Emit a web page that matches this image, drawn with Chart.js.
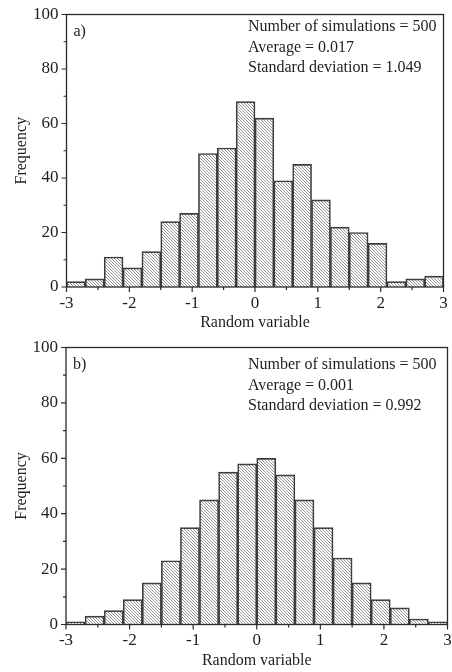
<!DOCTYPE html>
<html>
<head>
<meta charset="utf-8">
<script src="https://cdn.jsdelivr.net/npm/chart.js@4/dist/chart.umd.min.js"></script>
<style>
  html, body { margin: 0; padding: 0; background: #fff; }
  #wrap { position: relative; width: 452px; height: 672px; }
  canvas { position: absolute; left: 0; }
  #c1 { top: 0; }
  #c2 { top: 336px; }
</style>
</head>
<body>
<div id="wrap">
  <canvas id="c1" width="452" height="336"></canvas>
  <canvas id="c2" width="452" height="336"></canvas>
</div>
<script>
// ---- data ----
const binCenters = [-2.85, -2.55, -2.25, -1.95, -1.65, -1.35, -1.05, -0.75, -0.45, -0.15,
                     0.15,  0.45,  0.75,  1.05,  1.35,  1.65,  1.95,  2.25,  2.55,  2.85];
const freqA = [2, 3, 11, 7, 13, 24, 27, 49, 51, 68, 62, 39, 45, 32, 22, 20, 16, 2, 3, 4];
const freqB = [1, 3, 5, 9, 15, 23, 35, 45, 55, 58, 60, 54, 45, 35, 24, 15, 9, 6, 2, 1];
const xMajorTicks = [-3, -2, -1, 0, 1, 2, 3];
const xMinorTicks = [-2.5, -1.5, -0.5, 0.5, 1.5, 2.5];
const yMajorTicks = [0, 20, 40, 60, 80, 100];
const yMinorTicks = [10, 30, 50, 70, 90];
const panelLabels = ['a)', 'b)'];
const infoA = ['Number of simulations = 500', 'Average = 0.017', 'Standard deviation = 1.049'];
const infoB = ['Number of simulations = 500', 'Average = 0.001', 'Standard deviation = 0.992'];
const xTitle = 'Random variable';
const yTitle = 'Frequency';

const FONT = '"Liberation Serif", "Times New Roman", serif';
const INK = '#1e1e1e';

function hatchPattern() {
  const s = 3;
  const c = document.createElement('canvas');
  c.width = s; c.height = s;
  const g = c.getContext('2d');
  g.strokeStyle = '#666';
  g.lineWidth = 0.7;
  g.beginPath();
  g.moveTo(0, 0); g.lineTo(s, s);
  g.moveTo(-1, s - 1); g.lineTo(1, s + 1);
  g.moveTo(s - 1, -1); g.lineTo(s + 1, 1);
  g.stroke();
  return document.getElementById('c1').getContext('2d').createPattern(c, 'repeat');
}

const framePlugin = {
  id: 'frame',
  afterDraw(chart, args, opts) {
    const { ctx, chartArea: a, scales } = chart;
    const xs = scales.x, ys = scales.y;
    ctx.save();
    ctx.strokeStyle = '#2a2a2a';
    ctx.lineWidth = 1.3;
    ctx.strokeRect(a.left, a.top, a.right - a.left, a.bottom - a.top);
    ctx.lineWidth = 1.2;
    ctx.beginPath();
    xMajorTicks.forEach(v => { const p = xs.getPixelForValue(v); ctx.moveTo(p, a.bottom); ctx.lineTo(p, a.bottom + 5); });
    xMinorTicks.forEach(v => { const p = xs.getPixelForValue(v); ctx.moveTo(p, a.bottom); ctx.lineTo(p, a.bottom + 3); });
    yMajorTicks.forEach(v => { const p = ys.getPixelForValue(v); ctx.moveTo(a.left, p); ctx.lineTo(a.left - 5, p); });
    yMinorTicks.forEach(v => { const p = ys.getPixelForValue(v); ctx.moveTo(a.left, p); ctx.lineTo(a.left - 3, p); });
    ctx.stroke();
    // annotations
    ctx.fillStyle = INK;
    ctx.font = '16px ' + FONT;
    ctx.textBaseline = 'middle';
    ctx.textAlign = 'left';
    ctx.fillText(opts.label, a.left + 7, opts.labelY);
    opts.info.forEach((t, i) => ctx.fillText(t, opts.infoX, opts.infoY + i * 20.5));
    ctx.restore();
  }
};

function makeChart(id, values, label, info, area) {
  const H = 336;
  return new Chart(document.getElementById(id), {
    type: 'bar',
    data: {
      datasets: [{
        data: binCenters.map((x, i) => ({ x: x, y: values[i] })),
        backgroundColor: hatchPattern(),
        borderColor: '#3a3a3a',
        borderWidth: 1,
        borderSkipped: 'start',
        barPercentage: 1,
        categoryPercentage: 1,
        grouped: false
      }]
    },
    options: {
      responsive: false,
      animation: false,
      events: [],
      layout: { padding: { top: area.top, right: 452 - area.right, left: 0, bottom: 0 } },
      plugins: {
        legend: { display: false },
        tooltip: { enabled: false },
        frame: { label: label, labelY: area.labelY, info: info, infoX: 248, infoY: area.infoY }
      },
      scales: {
        x: {
          type: 'linear',
          min: -3, max: 3,
          offset: false,
          afterFit: s => { s.height = H - area.bottom; s.paddingLeft = 0; s.paddingRight = 0; },
          afterBuildTicks: s => { s.ticks = xMajorTicks.map(v => ({ value: v })); },
          grid: { display: false, drawTicks: false },
          border: { display: false },
          ticks: { color: INK, font: { family: FONT, size: 17 }, padding: 6, maxRotation: 0, autoSkip: false },
          title: { display: true, text: xTitle, color: INK, font: { family: FONT, size: 16 }, padding: { top: 0, bottom: area.xTitlePad } }
        },
        y: {
          min: 0, max: 100,
          afterFit: s => { s.width = area.left; s.paddingTop = 0; s.paddingBottom = 0; },
          afterBuildTicks: s => { s.ticks = yMajorTicks.map(v => ({ value: v })); },
          grid: { display: false, drawTicks: false },
          border: { display: false },
          ticks: { color: INK, font: { family: FONT, size: 17 }, padding: 8 },
          title: { display: true, text: yTitle, color: INK, font: { family: FONT, size: 16 }, padding: { top: 12, bottom: 0 } }
        }
      }
    },
    plugins: [framePlugin]
  });
}

makeChart('c1', freqA, panelLabels[0], infoA,
  { top: 14.5, bottom: 287, left: 66.5, right: 443.5, labelY: 32, infoY: 27, xTitlePad: 4 });
makeChart('c2', freqB, panelLabels[1], infoB,
  { top: 11.5, bottom: 288.5, left: 66, right: 447.5, labelY: 29, infoY: 29, xTitlePad: 2 });
</script>
</body>
</html>
